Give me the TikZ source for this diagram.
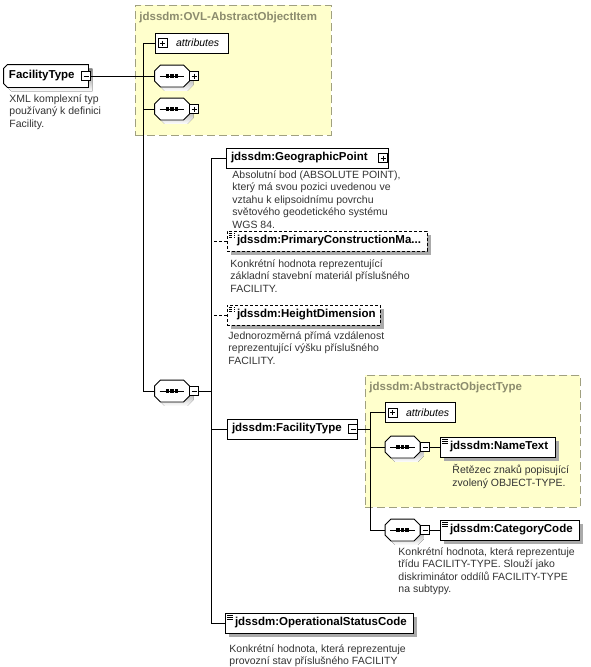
\documentclass[tikz,border=0pt]{standalone}
\usepackage{fontspec}
\setmainfont{Liberation Sans}
\usepackage{tikz}
\usetikzlibrary{positioning,calc,shadows}
\definecolor{lemon}{RGB}{255,255,204}
\definecolor{grpline}{RGB}{160,160,128}
\definecolor{grptext}{RGB}{140,140,110}
\definecolor{ink}{RGB}{51,51,51}
\definecolor{shade}{RGB}{170,170,170}
% octagon round a sequence node, with its shadow and the dots
\newcommand{\octpath}[1]{([xshift=6pt]#1.north west) -- ([xshift=-6pt]#1.north east)
  -- ([yshift=-6pt]#1.north east) -- ([yshift=6pt]#1.south east)
  -- ([xshift=-6pt]#1.south east) -- ([xshift=6pt]#1.south west)
  -- ([yshift=6pt]#1.south west) -- ([yshift=-6pt]#1.north west) -- cycle}
\newcommand{\seqbox}[1]{%
  \fill[shade,transform canvas={shift={(4pt,-4pt)}}] \octpath{#1};
  \filldraw[fill=white] \octpath{#1};
  \draw ([xshift=5pt]#1.west) -- ([xshift=-5pt]#1.east);
  \foreach \dx in {-4.5,0,4.5}
    \fill ([xshift=\dx pt]#1.center) +(-1.8,-1.7) rectangle +(1.8,1.7);}
\newcommand{\cplxpath}[1]{([xshift=4pt]#1.north west) -- (#1.north east) -- (#1.south east)
  -- ([xshift=4pt]#1.south west) -- ([yshift=4pt]#1.south west)
  -- ([yshift=-4pt]#1.north west) -- cycle}

\begin{document}
\begin{tikzpicture}[x=1pt,y=-1pt,line width=0.9pt,
    lbl/.style={font=\fontsize{11.5}{13}\selectfont\bfseries},
    desc/.style={font=\fontsize{10.5}{12.5}\selectfont,text=ink,align=left,
                 inner sep=0pt,anchor=north west},
    grp/.style={draw=grpline,fill=lemon,dash pattern=on 8pt off 4pt,
                anchor=north west,inner sep=0pt},
    grptitle/.style={lbl,text=grptext,anchor=west,inner sep=0pt},
    shd/.style={drop shadow={shadow xshift=4pt,shadow yshift=-4pt,fill=shade,opacity=1}},
    elem/.style={lbl,draw,fill=white,minimum height=20pt,inner ysep=0pt,
                 inner xsep=5pt,align=left},
    simp/.style={elem,shd,execute at begin node={\hspace*{5pt}},
                 path picture={\foreach \k in {2,4,6}
                   \draw[line width=0.6pt] ([xshift=2pt,yshift=-\k pt]path picture bounding box.north west) -- ++(6pt,0pt);}},
    opt/.style={dash pattern=on 3pt off 2pt},
    attr/.style={draw,fill=white,minimum height=20pt,inner ysep=0pt,inner xsep=5pt,
                 align=left,font=\fontsize{10.5}{12}\selectfont\itshape,
                 execute at begin node={\hspace*{16pt}}},
    seq/.style={minimum width=34pt,minimum height=21pt,inner sep=0pt},
    pm/.style={draw,fill=white,minimum size=9pt,inner sep=0pt,line width=0.7pt},
    minus/.style={pm,path picture={\draw[line width=0.7pt] ([xshift=2pt]path picture bounding box.west) -- ([xshift=-2pt]path picture bounding box.east);}},
    plus/.style={pm,path picture={\draw[line width=0.7pt] ([xshift=2pt]path picture bounding box.west) -- ([xshift=-2pt]path picture bounding box.east);
                 \draw[line width=0.7pt] ([yshift=-2pt]path picture bounding box.north) -- ([yshift=2pt]path picture bounding box.south);}},
  ]
  \useasboundingbox (0,0) rectangle (591,667);

  \node[grp,minimum width=196pt,minimum height=130pt] (grp1) at (135,5) {};
  \node[grptitle] (grp1t) at (139,18) {jdssdm:OVL-AbstractObjectItem};
  \node[grp,minimum width=215pt,minimum height=132pt] (grp2) at (365,375) {};
  \node[grptitle] (grp2t) at (369,388) {jdssdm:AbstractObjectType};

  \node[lbl,minimum width=84pt,minimum height=22pt,inner sep=0pt] (root) at (46,76) {};
  \fill[shade,transform canvas={shift={(4pt,-4pt)}}] \cplxpath{root};
  \filldraw[fill=white] \cplxpath{root};
  \node[lbl,anchor=west,inner sep=0pt] (rootl) at ([xshift=5pt]root.west) {FacilityType};
  \node[minus] (rootm) at (86,76) {};
  \node[desc] (rootd) at (9,94) {XML komplexní typ\\používaný k definici\\Facility.};

  \node[attr,text width=63pt] (attr1) at (191.5,43) {attributes};
  \node[plus] (attr1p) at ([xshift=8pt]attr1.west) {};
  \node[seq] (seq1) at (172,76) {};
  \node[seq] (seq2) at (172,109) {};
  \node[seq] (seq3) at (172,391) {};
  \seqbox{seq1}
  \seqbox{seq2}
  \seqbox{seq3}
  \node[plus] (seq1p) at (194,76) {};
  \node[plus] (seq2p) at (194,109) {};
  \node[minus] (seq3m) at (194,391) {};

  \node[elem,text width=152pt] (geo) at (307,158) {jdssdm:GeographicPoint};
  \node[plus] (geop) at (383,158) {};
  \node[desc] (geod) at (232,170)
    {Absolutní bod (ABSOLUTE POINT),\\který má svou pozici uvedenou ve\\vztahu k elipsoidnímu povrchu\\světového geodetického systému\\WGS 84.};
  \node[simp,opt,text width=190pt] (pcm) at (327,241) {jdssdm:PrimaryConstructionMa...};
  \node[desc] (pcmd) at (230,259)
    {Konkrétní hodnota reprezentující\\základní stavební materiál příslušného\\FACILITY.};
  \node[simp,opt,text width=143pt] (hd) at (303.5,315) {jdssdm:HeightDimension};
  \node[desc] (hdd) at (228,331)
    {Jednorozměrná přímá vzdálenost\\reprezentující výšku příslušného\\FACILITY.};
  \node[elem,text width=120pt] (fct) at (292,429) {jdssdm:FacilityType};
  \node[minus] (fctm) at (353,429) {};

  \node[attr,text width=60pt] (attr2) at (420,412.5) {attributes};
  \node[plus] (attr2p) at ([xshift=8pt]attr2.west) {};
  \node[seq] (seq4) at (402.5,447) {};
  \node[seq] (seq5) at (402.5,530) {};
  \seqbox{seq4}
  \seqbox{seq5}
  \node[minus] (seq4m) at (425,447) {};
  \node[minus] (seq5m) at (425,530) {};
  \node[simp,text width=105pt] (nt) at (497.5,447) {jdssdm:NameText};
  \node[desc] (ntd) at (452,464) {Řetězec znaků popisující\\zvolený OBJECT-TYPE.};
  \node[simp,text width=129pt] (cc) at (509.5,530) {jdssdm:CategoryCode};
  \node[desc] (ccd) at (398,547)
    {Konkrétní hodnota, která reprezentuje\\třídu FACILITY-TYPE. Slouží jako\\diskriminátor oddílů FACILITY-TYPE\\na subtypy.};

  \node[simp,text width=178pt] (opst) at (319,623) {jdssdm:OperationalStatusCode};
  \node[desc] (opstd) at (229,644)
    {Konkrétní hodnota, která reprezentuje\\provozní stav příslušného FACILITY};

  \coordinate (sp1) at (143,43);
  \coordinate (sp2) at (211,158);
  \coordinate (sp3) at (370,412.5);

  \draw (rootm.east) -- (seq1.west);
  \draw (attr1.west) -- (sp1) |- (seq3.west);
  \draw (seq2.west) -- (seq2.west -| sp1);
  \draw (seq3m.east) -- (seq3m.east -| sp2);
  \draw (geo.west) -- (sp2) |- (opst.west);
  \draw[opt] (pcm.west) -- (pcm.west -| sp2);
  \draw[opt] (hd.west) -- (hd.west -| sp2);
  \draw (fct.west) -- (fct.west -| sp2);
  \draw (fctm.east) -- (fctm.east -| sp3);
  \draw (attr2.west) -- (sp3) |- (seq5.west);
  \draw (seq4.west) -- (seq4.west -| sp3);
  \draw (seq4m.east) -- (nt.west);
  \draw (seq5m.east) -- (cc.west);
\end{tikzpicture}
\end{document}
